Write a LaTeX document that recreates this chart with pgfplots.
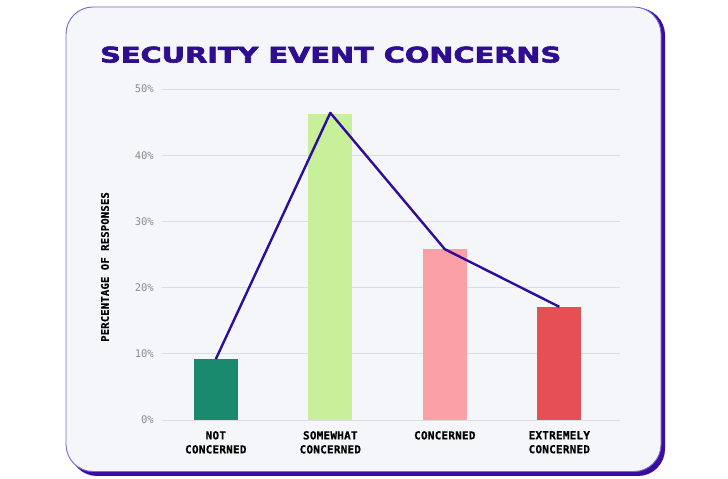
\documentclass[border=0pt]{standalone}
\usepackage{fontspec}
\setmainfont{DejaVu Sans}
\setmonofont{DejaVu Sans Mono}
\newfontfamily\labfont{DejaVu Sans Mono}[LetterSpace=2, FakeBold=0.6]
\newfontfamily\titlefont{DejaVu Sans}[FakeBold=2.5]
\usepackage{pgfplots}
\pgfplotsset{compat=1.18}
\definecolor{cardbg}{HTML}{F5F6FA}
\definecolor{cardborder}{HTML}{7B68C9}
\definecolor{deeppurple}{HTML}{3A0CA3}
\definecolor{titlepurple}{HTML}{2E0E8F}
\definecolor{linepurple}{HTML}{300C9A}
\definecolor{gridgray}{HTML}{DCDDE3}
\definecolor{tickgray}{HTML}{8C8C8C}
\definecolor{barA}{HTML}{1A8A6E}
\definecolor{barB}{HTML}{C8F09A}
\definecolor{barC}{HTML}{FCA0A8}
\definecolor{barD}{HTML}{E65054}
\begin{document}
\begin{tikzpicture}[x=1pt,y=1pt]
\fill[white] (0,0) rectangle (728,479);
\fill[deeppurple, rounded corners=27pt] (70,3) rectangle (665,471);
\fill[cardbg, draw=cardborder, line width=0.9pt, rounded corners=27pt] (66,7.5) rectangle (661,472);
\node[anchor=base west, inner sep=0, text=titlepurple] at (100,416.5)
  {\resizebox{461pt}{16pt}{\titlefont\bfseries SECURITY EVENT CONCERNS}};
\node[rotate=90, inner sep=0] at (105,212)
  {\labfont\bfseries\fontsize{10.5}{12}\selectfont PERCENTAGE OF RESPONSES};
\begin{axis}[
  at={(162pt,59pt)}, anchor=south west,
  scale only axis, width=458pt, height=331pt,
  xmin=-0.47, xmax=3.53, ymin=0, ymax=50,
  axis line style={draw=none},
  major tick length=0pt,
  ytick={0,10,20,30,40,50},
  yticklabel={\pgfmathprintnumber{\tick}\%},
  /pgf/number format/assume math mode=true,
  yticklabel style={font=\ttfamily\fontsize{10.5}{12}\selectfont, text=tickgray, anchor=east, inner sep=0pt, xshift=-8pt},
  ymajorgrids, grid style={gridgray, line width=0.8pt},
  xtick={0,1,2,3},
  xticklabels={{NOT\\CONCERNED},{SOMEWHAT\\CONCERNED},{CONCERNED},{EXTREMELY\\CONCERNED}},
  xticklabel style={font=\labfont\bfseries\fontsize{11}{14}\selectfont, align=center, anchor=north, inner sep=0pt, yshift=-11pt},
  clip=false,
]
\addplot[ybar, bar width=44pt, bar shift=0pt, fill=barA, draw=none] coordinates {(0,9.2)};
\addplot[ybar, bar width=44pt, bar shift=0pt, fill=barB, draw=none] coordinates {(1,46.2)};
\addplot[ybar, bar width=44pt, bar shift=0pt, fill=barC, draw=none] coordinates {(2,25.8)};
\addplot[ybar, bar width=44pt, bar shift=0pt, fill=barD, draw=none] coordinates {(3,17.1)};
\addplot[linepurple, line width=2.4pt, mark=none, line join=round] coordinates {(0,9.2) (1,46.4) (2,25.8) (3,17.1)};
\end{axis}
\end{tikzpicture}
\end{document}
